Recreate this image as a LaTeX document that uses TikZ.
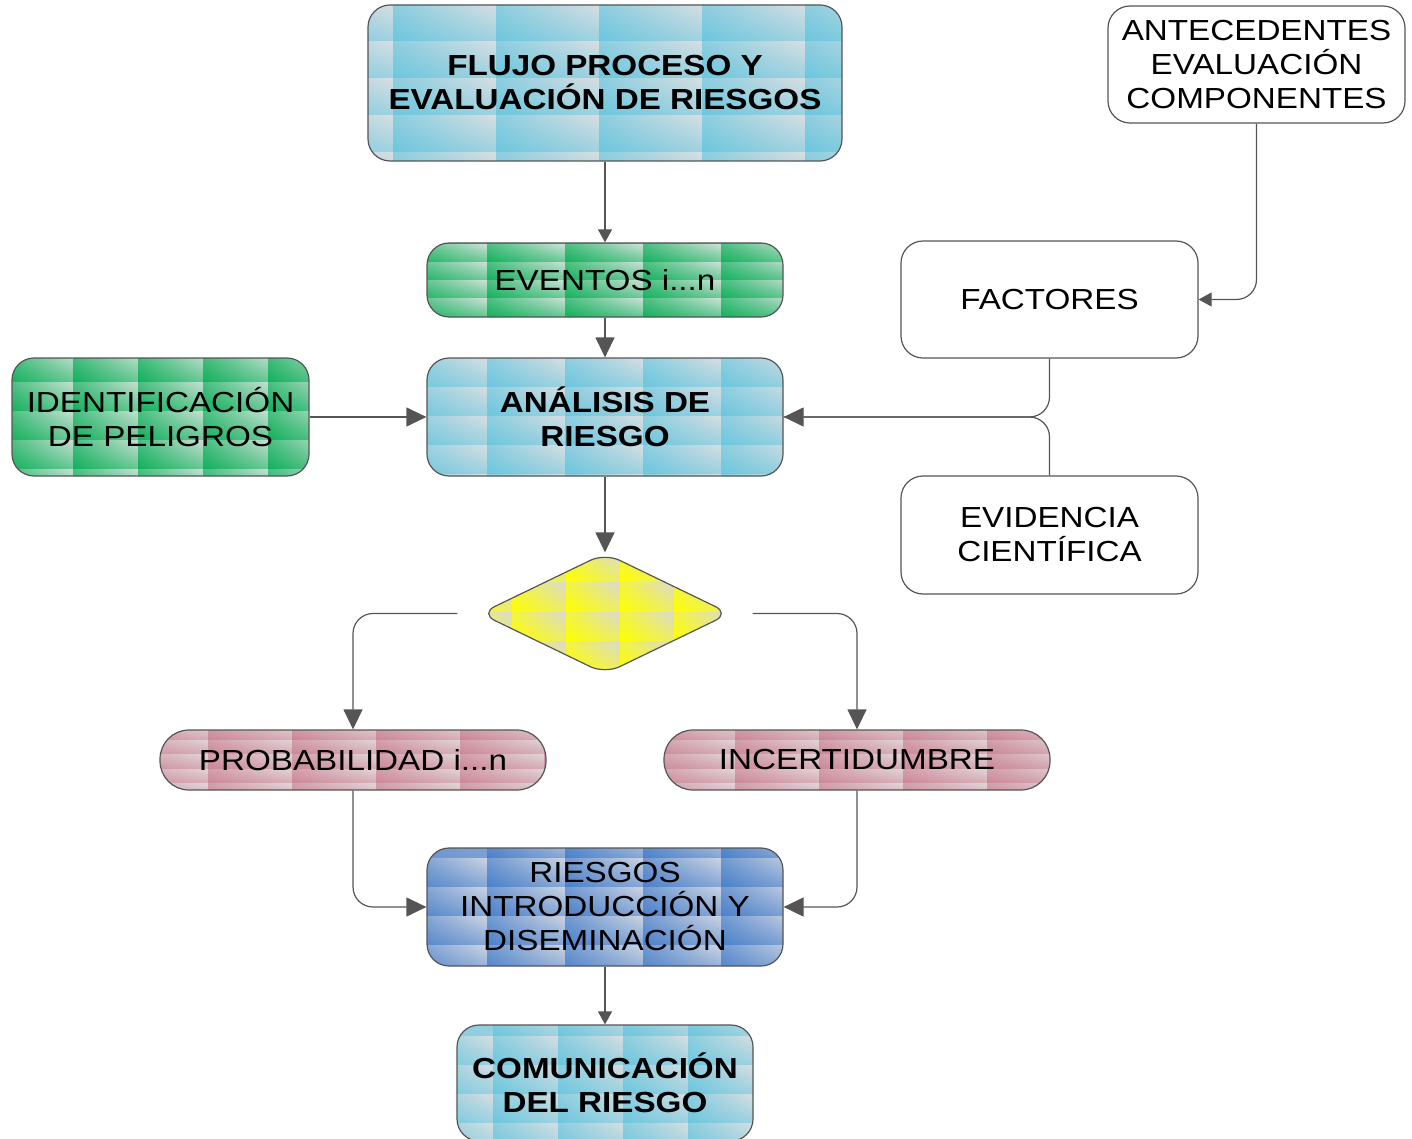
\documentclass[tikz,border=0pt]{standalone}
\usepackage{fontspec}
\setmainfont{Liberation Sans}[FakeStretch=1.145]
\usetikzlibrary{arrows.meta,shapes.geometric,shadings,calc}

\definecolor{edge}{RGB}{85,85,85}
\definecolor{cyanA}{RGB}{108,198,222}
\definecolor{cyanB}{RGB}{214,222,226}
\definecolor{greenA}{RGB}{18,176,92}
\definecolor{greenB}{RGB}{198,224,210}
\definecolor{pinkA}{RGB}{204,134,150}
\definecolor{pinkB}{RGB}{224,212,215}
\definecolor{blueA}{RGB}{74,128,202}
\definecolor{blueB}{RGB}{204,212,226}
\definecolor{yelA}{RGB}{255,255,0}
\definecolor{yelB}{RGB}{218,218,210}

\tikzset{
  x=1pt, y=-1pt,
  txt/.style={font=\fontsize{29}{34}\selectfont, text=black, align=center},
  box/.style={txt, draw=edge, line width=1.2pt, rounded corners=22pt, inner sep=0pt},
  pill/.style={box, rounded corners=29pt, minimum width=386pt, minimum height=60pt},
  % tiled fill: saturated colour, light colour, tile width, tile height, x offset, y offset
  tiles/.style n args={6}{path picture={
    \foreach \i in {-1,...,5}{\foreach \j in {-1,...,5}{
      \shade[sharp corners, lower left=#1, upper left=#1!70!#2,
             lower right=#1!55!#2, upper right=#2]
        ([xshift={(#5+(\i)*#3)*1pt}, yshift={-(#6+(\j)*#4)*1pt}]path picture bounding box.north west)
        rectangle ++(#3,#4);
    }}}},
  conn/.style={draw=edge, line width=1.2pt, rounded corners=20pt},
  bighead/.style={-{Triangle[length=20pt,width=19pt]}},
  smallhead/.style={-{Triangle[length=13pt,width=14pt]}},
}

\begin{document}
\begin{tikzpicture}
\useasboundingbox (0,0) rectangle (1412,1139);

% boxes
\node[box, minimum width=474pt, minimum height=156pt,
      tiles={cyanA}{cyanB}{103}{37}{25}{0}, font=\fontsize{29}{34}\selectfont\bfseries]
  (flujo) at (605,83) {FLUJO PROCESO Y\\EVALUACIÓN DE RIESGOS};
\node[box, fill=white, minimum width=297pt, minimum height=117pt]
  (ante) at (1256.5,64.5) {ANTECEDENTES\\EVALUACIÓN\\COMPONENTES};
\node[box, minimum width=356pt, minimum height=74pt, tiles={greenA}{greenB}{78}{18}{60}{2}]
  (even) at (605,280) {EVENTOS i...n};
\node[box, fill=white, minimum width=297pt, minimum height=117pt]
  (fact) at (1049.5,299.5) {FACTORES};
\node[box, minimum width=297pt, minimum height=118pt, tiles={greenA}{greenB}{65}{29}{61}{-5}]
  (iden) at (160.5,417) {IDENTIFICACIÓN\\DE PELIGROS};
\node[box, minimum width=356pt, minimum height=118pt, tiles={cyanA}{cyanB}{78}{29}{60}{0},
      font=\fontsize{29}{34}\selectfont\bfseries]
  (anal) at (605,417) {ANÁLISIS DE\\RIESGO};
\node[box, fill=white, minimum width=297pt, minimum height=118pt]
  (evid) at (1049.5,535) {EVIDENCIA\\CIENTÍFICA};
\node[draw=edge, line width=1.2pt, diamond, aspect=2.07, inner sep=0pt,
      minimum width=250pt, minimum height=121pt, rounded corners=16pt,
      tiles={yelA}{yelB}{54}{29.5}{32}{0}]
  (deci) at (605,613.5) {};
\node[pill, tiles={pinkA}{pinkB}{84}{14.6}{48}{-4.6}]
  (prob) at (353,760) {PROBABILIDAD i...n};
\node[pill, tiles={pinkA}{pinkB}{84}{14.6}{71}{-4.6}]
  (ince) at (857,760) {INCERTIDUMBRE};
\node[box, minimum width=356pt, minimum height=118pt, tiles={blueA}{blueB}{78}{29}{60}{10}]
  (ries) at (605,907) {RIESGOS\\INTRODUCCIÓN Y\\DISEMINACIÓN};
\node[box, minimum width=296pt, minimum height=116pt, tiles={cyanA}{cyanB}{65}{29}{36}{11},
      font=\fontsize{29}{34}\selectfont\bfseries]
  (comu) at (605,1083) {COMUNICACIÓN\\DEL RIESGO};

% free ends of the decision branches
\coordinate (dl) at ([xshift=-22pt]deci.west);
\coordinate (dr) at ([xshift=22pt]deci.east);

% connectors
\draw[conn, smallhead] (flujo.south) -- (even.north);
\draw[conn, bighead] (even.south) -- (anal.north);
\draw[conn, bighead] (iden.east) -- (anal.west);
\draw[conn, smallhead] (ante.south) |- (fact.east);
\draw[conn] (evid.north) |- (anal.east);
\draw[conn, bighead] (fact.south) |- (anal.east);
\draw[conn, bighead] (anal.south) -- (deci.north);
\draw[conn, bighead] (dl) -| (prob.north);
\draw[conn, bighead] (dr) -| (ince.north);
\draw[conn, bighead] (prob.south) |- (ries.west);
\draw[conn, bighead] (ince.south) |- (ries.east);
\draw[conn, smallhead] (ries.south) -- (comu.north);
\end{tikzpicture}
\end{document}
